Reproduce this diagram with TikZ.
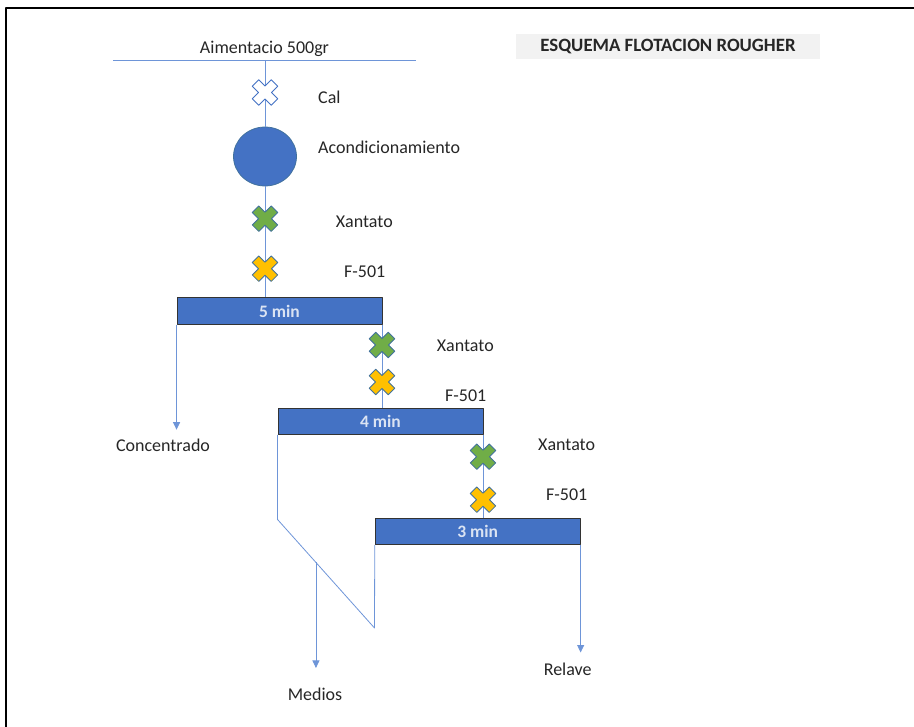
\documentclass[tikz,border=0pt]{standalone}
\usepackage{fontspec}
\setmainfont{Carlito}
\usetikzlibrary{arrows.meta,calc,positioning,shapes.geometric}
\definecolor{azul}{HTML}{4472C4}
\definecolor{bordex}{HTML}{41719C}
\definecolor{linea}{HTML}{6E95D8}
\definecolor{verde}{HTML}{70AD47}
\definecolor{amarillo}{HTML}{FFC000}
\definecolor{textocelda}{HTML}{DAE3F3}
\tikzset{celda/.style={draw=black!80,fill=azul,line width=0.9pt,minimum width=205pt,minimum height=26.5pt,inner sep=0pt,text=textocelda,font=\fontsize{17.5}{19}\selectfont\bfseries},
  tanq/.style={ellipse,draw=bordex,fill=azul,line width=0.75pt,minimum width=63pt,minimum height=59pt,inner sep=0pt},
  titulo/.style={fill=black!5,minimum width=304pt,minimum height=25pt,inner sep=0pt,font=\fontsize{18.8}{21}\selectfont\bfseries},
  flujo/.style={draw=linea,line width=0.8pt},
  salida/.style={flujo,-{Triangle[width=7pt,length=7.5pt]}},
  etiq/.style={anchor=base west,inner sep=0pt},
  etiqc/.style={anchor=base,inner sep=0pt},
  dosif/.pic={\path[pic actions,line width=0.8pt,rotate=45] (-4.6,13.4) -- (4.6,13.4) -- (4.6,4.6) -- (13.4,4.6) -- (13.4,-4.6) -- (4.6,-4.6) -- (4.6,-13.4) -- (-4.6,-13.4) -- (-4.6,-4.6) -- (-13.4,-4.6) -- (-13.4,4.6) -- (-4.6,4.6) -- cycle;}}

\begin{document}
\begin{tikzpicture}[x=1pt,y=-1pt,line join=round,font=\fontsize{18}{21}\selectfont,text=black!85]
\useasboundingbox (0,0) rectangle (914,727);
% --- marco y titulo
\draw[line width=1.5pt] (6,727) -- (6,8) -- (914,8);
\node[titulo] (tit) at (668,46.3) {ESQUEMA FLOTACION ROUGHER};
% --- alimentacion, acondicionamiento y celdas
\coordinate (alimL) at (113,60); \coordinate (alimR) at (416,60); \coordinate (ent) at (265,60);
\draw[flujo] (alimL) -- (alimR);
\node[etiqc] (alim) at (264.5,53.3) {Aimentacio 500gr};
\node[tanq] (tanque) at (265,156.5) {};
\node[celda] (c5) at (279.5,311) {5 min};
\node[celda] (c4) at (380.5,421.3) {4 min};
\node[celda] (c3) at (477.7,531.3) {3 min};
\draw[flujo] (ent) -- (tanque.north) (tanque.south) -- (tanque.south |- c5.north);
\draw[flujo] (c5.south east) -- (c5.south east |- c4.north) (c4.south east) -- (c4.south east |- c3.north);
% --- salidas
\path (c5.south west) ++(0,105) coordinate (finConc);
\draw[salida] (c5.south west) -- (finConc);
\draw[flujo] (c4.south west) -- ++(0,84.5) coordinate (quiebre) -- (374.5,628) coordinate (fondo) -- (c3.south west);
\coordinate (deriv) at ($(quiebre)!0.396!(fondo)$);
\path (deriv) ++(0,105.5) coordinate (finMed);
\draw[salida] (deriv) -- (finMed);
\path (c3.south east) ++(0,107.5) coordinate (finRel);
\draw[salida] (c3.south east) -- (finRel);
% --- reactivos
\pic[draw=azul,fill=white] at (265,92.5) {dosif};
\foreach \x/\yv/\ya in {265/218.7/268.7,382/345/382,483/456.7/499.7} {\pic[draw=bordex,fill=verde] at (\x,\yv) {dosif}; \pic[draw=bordex,fill=amarillo] at (\x,\ya) {dosif};}
% --- textos
\node[etiq] (cal) at (318,104) {Cal};
\node[etiq] (acond) at (318,153.3) {Acondicionamiento};
\node[etiq] (xan1) at (335.7,227.7) {Xantato};
\node[etiq] (esp1) at (344,277.3) {F-501};
\node[etiq] (xan2) at (436.7,351.7) {Xantato};
\node[etiq] (esp2) at (445,401.3) {F-501};
\node[etiq] (xan3) at (538,451) {Xantato};
\node[etiq] (esp3) at (546,500.7) {F-501};
\node[etiqc] (conc) at (163,451.7) {Concentrado};
\node[etiqc] (medios) at (315,700) {Medios};
\node[etiqc] (relave) at (567.7,675) {Relave};
\end{tikzpicture}
\end{document}
